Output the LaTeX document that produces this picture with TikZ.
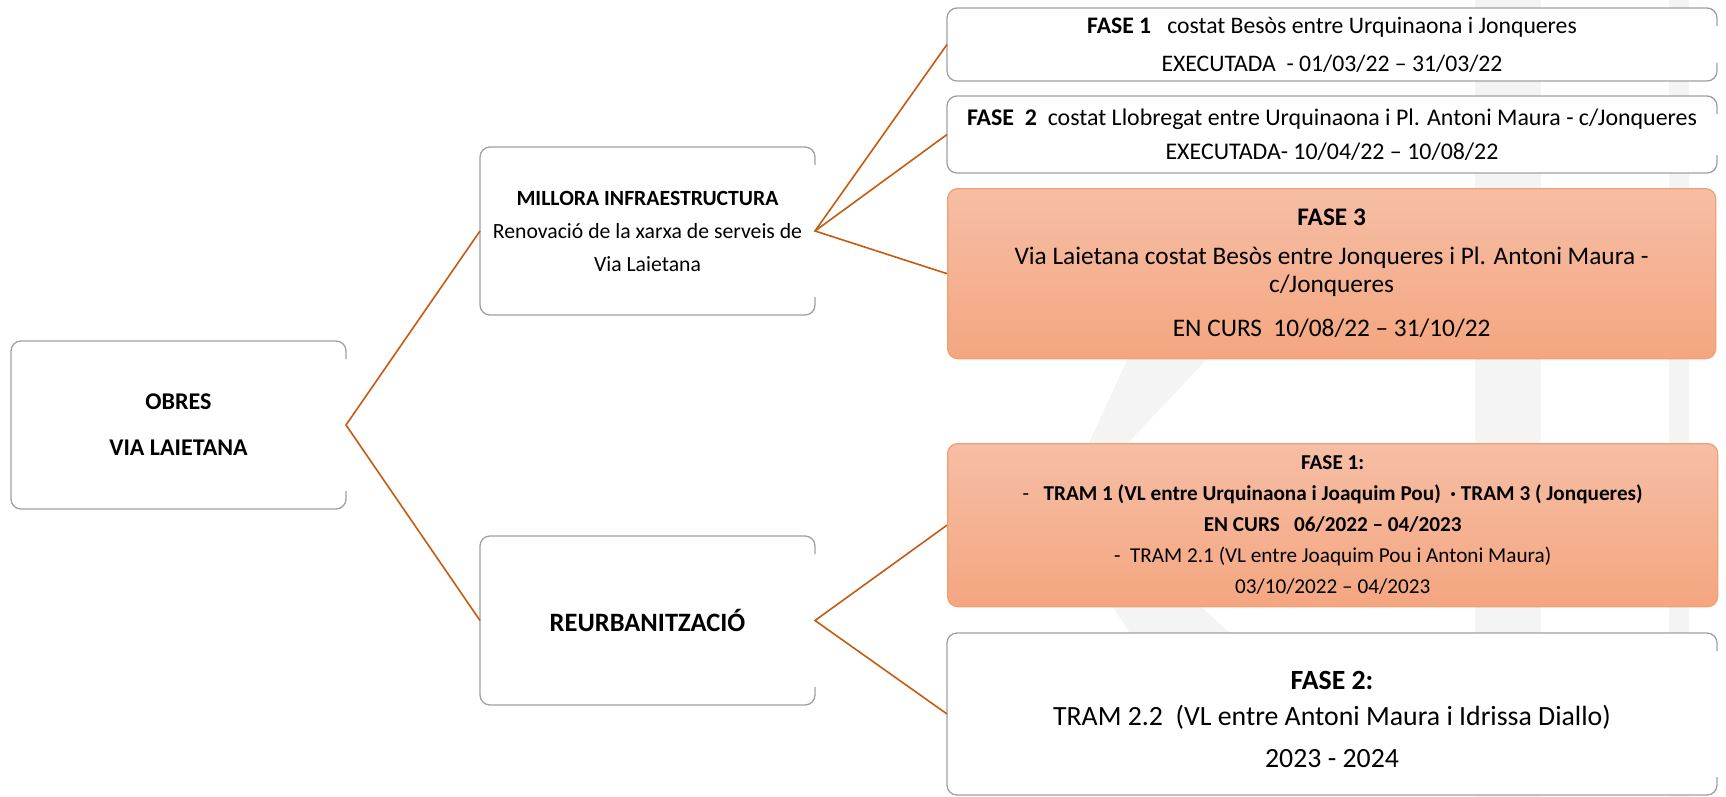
\documentclass[tikz,border=0pt]{standalone}
\usepackage{fontspec}
\setmainfont{Carlito}
\definecolor{conn}{RGB}{197,90,17}
\definecolor{boxline}{RGB}{160,160,160}
\definecolor{orTop}{RGB}{246,190,165}
\definecolor{orBot}{RGB}{244,166,128}
\definecolor{orLine}{RGB}{241,160,115}
\definecolor{wm}{RGB}{244,244,244}
\tikzset{
  whitebox/.style={fill=white, rounded corners=10pt, outer sep=0pt,
    align=center, inner sep=0pt, anchor=north west},
  orangebox/.style={draw=orLine, line width=1.3pt, rounded corners=10pt,
    top color=orTop, bottom color=orBot, align=center, inner sep=0pt, anchor=north west},
  conline/.style={draw=conn, line width=1.6pt},
  openedge/.style={draw=boxline, line width=1.3pt, rounded corners=10pt},
}
\newcommand\openborder[1]{\draw[openedge] ([yshift=-18pt]#1.north east) -- (#1.north east) -- (#1.north west) -- (#1.south west) -- (#1.south east) -- ([yshift=18pt]#1.south east);}
\begin{document}
\begin{tikzpicture}[x=1pt,y=-1pt]
\useasboundingbox (0,0) rectangle (1726,797);
% faint watermark
\fill[wm] (1475,0) rectangle (1541,797);
\fill[wm] (1669,0) rectangle (1689,797);
\fill[wm] (1128,358) -- (1208,358) -- (1128,443) -- (1089,443) -- cycle;
\fill[wm] (1112,606) -- (1200,606) -- (1230,633) -- (1130,633) -- cycle;
% boxes
\node[whitebox, minimum width=335pt, minimum height=168pt, font=\fontsize{24}{46}\selectfont\bfseries] (obres) at (11,341)
  {OBRES\\ VIA LAIETANA};
\node[whitebox, minimum width=335pt, minimum height=168pt, font=\fontsize{21.7}{33}\selectfont] (millora) at (480,147)
  {\textbf{MILLORA INFRAESTRUCTURA}\\ Renovació de la xarxa de serveis de\\ Via Laietana};
\node[whitebox, minimum width=335pt, minimum height=169pt, font=\fontsize{26.5}{30}\selectfont\bfseries] (reurb) at (480,536)
  {REURBANITZACIÓ};
\node[whitebox, minimum width=770pt, minimum height=73pt, font=\fontsize{23.7}{38}\selectfont] (f1) at (947,8)
  {\textbf{FASE 1}\ \ \ costat Besòs entre Urquinaona i Jonqueres\\ EXECUTADA\ \ - 01/03/22 – 31/03/22};
\node[whitebox, minimum width=770pt, minimum height=77pt, font=\fontsize{23.9}{34}\selectfont] (f2) at (947,96)
  {\textbf{FASE\ \ 2}\ \ costat Llobregat entre Urquinaona i Pl. Antoni Maura - c/Jonqueres\\ EXECUTADA- 10/04/22 – 10/08/22};
\node[orangebox, minimum width=768pt, minimum height=170pt, font=\fontsize{25.3}{28}\selectfont] (f3) at (947,188)
  {\textbf{FASE 3}\\[11pt] Via Laietana costat Besòs entre Jonqueres i Pl. Antoni Maura -\\ c/Jonqueres\\[16pt] EN CURS\ \ 10/08/22 – 31/10/22};
\node[orangebox, minimum width=770pt, minimum height=163pt, font=\fontsize{21.2}{31}\selectfont] (r1) at (947,443)
  {\textbf{FASE 1:}\\ -\ \ \ \textbf{TRAM 1 (VL entre Urquinaona i Joaquim Pou)\ \ · TRAM 3 ( Jonqueres)}\\ \textbf{EN CURS\ \ \ 06/2022 – 04/2023}\\ -\ \ TRAM 2.1 (VL entre Joaquim Pou i Antoni Maura)\\ 03/10/2022 – 04/2023};
\node[whitebox, minimum width=770pt, minimum height=162pt] (r2) at (947,633) {};
\node[align=center, inner sep=0pt, font=\fontsize{27.8}{42}\selectfont] (r2t) at ([yshift=-5pt]r2.center)
  {\textbf{FASE 2:}\\[-6pt] TRAM 2.2\ \ (VL entre Antoni Maura i Idrissa Diallo)\\ 2023 - 2024};
% open borders of white boxes
\openborder{obres}
\openborder{millora}
\openborder{reurb}
\openborder{f1}
\openborder{f2}
\openborder{r2}
% connectors
\draw[conline] (millora.west) -- (obres.east) -- (reurb.west);
\draw[conline] (f1.west) -- (millora.east) -- (f3.west);
\draw[conline] (millora.east) -- (f2.west);
\draw[conline] (r1.west) -- (reurb.east) -- (r2.west);
\end{tikzpicture}
\end{document}
